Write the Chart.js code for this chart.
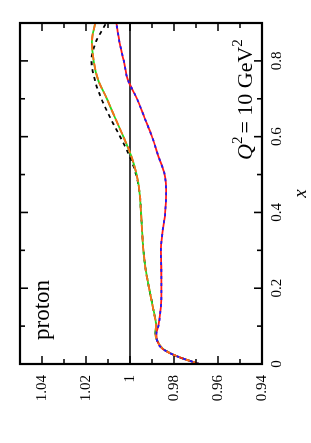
<!DOCTYPE html>
<html><head><meta charset="utf-8">
<style>
html,body{margin:0;padding:0;background:#fff;overflow:hidden;width:311px;height:443px;}
#wrap{position:absolute;left:0;top:0;width:443px;height:311px;transform-origin:0 0;transform:translateY(443px) rotate(-90deg);}
canvas{display:block;}
</style>
<script src="https://cdn.jsdelivr.net/npm/chart.js@4/dist/chart.umd.min.js"></script>
</head><body>
<div id="wrap"><canvas id="c" width="443" height="311"></canvas></div>
<script>
// x values (momentum fraction)
const xs = [0,0.02,0.04,0.06,0.08,0.1,0.15,0.2,0.25,0.3,0.35,0.4,0.45,0.5,0.55,0.6,0.65,0.7,0.75,0.8,0.85,0.9];
// red solid / blue dashed
const seriesA = [0.9685,0.9785,0.9852,0.9876,0.9880,0.9871,0.9860,0.9857,0.9858,0.9860,0.9852,0.9840,0.9836,0.9843,0.9872,0.9900,0.9934,0.9968,1.0010,1.0028,1.0048,1.0062];
// orange solid / green dashed
const seriesB = [0.9685,0.9785,0.9850,0.9875,0.9884,0.9882,0.9896,0.9913,0.9929,0.9939,0.9945,0.9950,0.9956,0.9970,0.9995,1.0030,1.0068,1.0105,1.0145,1.0165,1.0173,1.0158];
// black dashed
const seriesC = [0.9685,0.9785,0.9850,0.9875,0.9884,0.9882,0.9896,0.9913,0.9929,0.9939,0.9945,0.9950,0.9956,0.9972,1.0003,1.0045,1.0090,1.0130,1.0160,1.0175,1.0155,1.0108];
const refLine = [1,1];
const refX = [0,0.9];
const xTicks = [0,0.2,0.4,0.6,0.8];
const xTickLabels = ['0','0.2','0.4','0.6','0.8'];
const xMinor = [0.1,0.3,0.5,0.7,0.9];
const yTicks = [0.94,0.96,0.98,1,1.02,1.04];
const yTickLabels = ['0.94','0.96','0.98','1','1.02','1.04'];
const yMinor = [0.95,0.97,0.99,1.01,1.03,1.05];

const pts = (xv, yv) => xv.map((x,i)=>({x:x,y:yv[i]}));
const SERIF = '"Liberation Serif","Times New Roman",serif';

const framePlugin = {
  id:'frame',
  afterDraw(chart){
    const {ctx, chartArea:a, scales:{x,y}} = chart;
    ctx.save();
    ctx.strokeStyle='#000';
    ctx.lineWidth=1.6;
    ctx.beginPath();
    const tx=(vals,len)=>vals.forEach(v=>{const p=x.getPixelForValue(v);ctx.moveTo(p,a.bottom);ctx.lineTo(p,a.bottom-len);ctx.moveTo(p,a.top);ctx.lineTo(p,a.top+len);});
    const ty=(vals,len)=>vals.forEach(v=>{const p=y.getPixelForValue(v);ctx.moveTo(a.left,p);ctx.lineTo(a.left+len,p);ctx.moveTo(a.right,p);ctx.lineTo(a.right-len,p);});
    tx(xTicks,8); tx(xMinor,5); ty(yTicks,8); ty(yMinor,5);
    ctx.stroke();
    ctx.lineWidth=2.2;
    ctx.strokeRect(a.left,a.top,a.right-a.left,a.bottom-a.top);
    ctx.fillStyle='#000';
    ctx.textBaseline='alphabetic';
    ctx.textAlign='left';
    ctx.font='23px '+SERIF;
    ctx.fillText('proton', a.left+24, a.top+29);
    // Q^2 = 10 GeV^2
    let px=a.left+204, py=a.top+232;
    ctx.font='italic 22px '+SERIF;
    ctx.fillText('Q',px,py); px+=ctx.measureText('Q').width;
    ctx.font='15px '+SERIF;
    ctx.fillText('2',px,py-10); px+=ctx.measureText('2').width+3;
    ctx.font='22px '+SERIF;
    ctx.fillText('= 10 GeV',px,py); px+=ctx.measureText('= 10 GeV').width;
    ctx.font='15px '+SERIF;
    ctx.fillText('2',px,py-10);
    // axis title x
    ctx.font='italic 19px '+SERIF;
    ctx.textAlign='center';
    ctx.fillText('x',(a.left+a.right)/2, a.bottom+44);
    ctx.restore();
  }
};

new Chart(document.getElementById('c'),{
  type:'scatter',
  data:{datasets:[
    {data:pts(xs,seriesA),showLine:true,borderColor:'#1a1aff',borderWidth:1.8,borderDash:[3,4],pointRadius:0,cubicInterpolationMode:'monotone'},
    {data:pts(xs,seriesB),showLine:true,borderColor:'#ff6a1a',borderWidth:1.8,borderDash:[7,3],pointRadius:0,cubicInterpolationMode:'monotone'},
    {data:pts(xs,seriesA),showLine:true,borderColor:'#ff1a1a',borderWidth:1.8,pointRadius:0,cubicInterpolationMode:'monotone'},
    {data:pts(xs,seriesB),showLine:true,borderColor:'#22dd22',borderWidth:1.8,pointRadius:0,cubicInterpolationMode:'monotone'},
    {data:pts(xs,seriesC),showLine:true,borderColor:'#000',borderWidth:1.8,borderDash:[4,4],pointRadius:0,cubicInterpolationMode:'monotone'},
    {data:pts(refX,refLine),showLine:true,borderColor:'#000',borderWidth:1.3,pointRadius:0}
  ]},
  options:{
    responsive:false,animation:false,devicePixelRatio:1,
    layout:{padding:{left:0,top:19,right:23,bottom:0}},
    plugins:{legend:{display:false},tooltip:{enabled:false}},
    scales:{
      x:{type:'linear',min:0,max:0.9,
        grid:{display:false,drawTicks:false},border:{display:false},
        afterBuildTicks:s=>{s.ticks=xTicks.map(v=>({value:v}));},
        afterFit:s=>{s.height=49;},
        ticks:{padding:6,color:'#000',font:{family:SERIF,size:15},maxRotation:0,minRotation:0,
          callback:(v)=>{const i=xTicks.findIndex(t=>Math.abs(t-v)<1e-9);return i>=0?xTickLabels[i]:'';}}},
      y:{type:'linear',min:0.94,max:1.05,
        grid:{display:false,drawTicks:false},border:{display:false},
        afterBuildTicks:s=>{s.ticks=yTicks.map(v=>({value:v}));},
        afterFit:s=>{s.width=79;},
        ticks:{padding:11,color:'#000',font:{family:SERIF,size:15},
          callback:(v)=>{const i=yTicks.findIndex(t=>Math.abs(t-v)<1e-9);return i>=0?yTickLabels[i]:'';}}}
    }
  },
  plugins:[framePlugin]
});
</script>
</body></html>
